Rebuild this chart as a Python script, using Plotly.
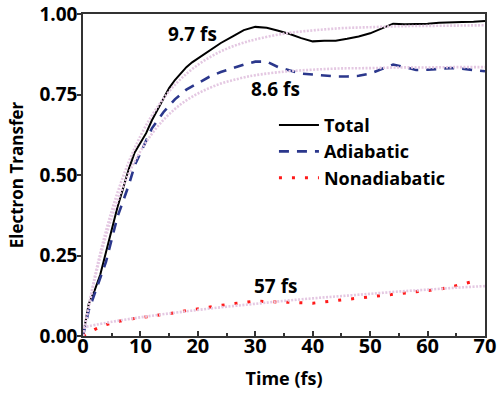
import plotly.graph_objects as go

# ---- data ----
t_total = [0, 1, 2, 3, 4, 5, 6, 7, 8, 9, 10, 11, 12, 13, 14, 15, 16, 17, 18, 19, 20,
           22, 24, 26, 28, 30, 32, 34, 36, 38, 40, 42, 44, 46, 48, 50, 52, 54, 56, 58,
           60, 62, 64, 66, 68, 70]
total = [0.00, 0.10, 0.14, 0.19, 0.26, 0.33, 0.40, 0.46, 0.52, 0.57, 0.60, 0.63, 0.67,
         0.705, 0.74, 0.77, 0.795, 0.815, 0.835, 0.85, 0.862, 0.885, 0.91, 0.93, 0.95, 0.96,
         0.957, 0.948, 0.938, 0.925, 0.915, 0.917, 0.917, 0.923, 0.93, 0.94, 0.955, 0.97,
         0.968, 0.968, 0.97, 0.973, 0.975, 0.975, 0.976, 0.978]

t_adia = [0, 1, 2, 3, 4, 5, 6, 7, 8, 9, 10, 11, 12, 13, 14, 15, 16, 17, 18, 20, 22, 24,
          26, 28, 30, 32, 34, 36, 38, 40, 42, 44, 46, 48, 50, 52, 54, 56, 58, 60, 62, 64,
          66, 68, 70]
adiabatic = [0.00, 0.08, 0.13, 0.18, 0.23, 0.30, 0.37, 0.42, 0.47, 0.53, 0.57, 0.61, 0.645,
             0.67, 0.695, 0.715, 0.735, 0.75, 0.765, 0.785, 0.805, 0.82, 0.832, 0.843, 0.852,
             0.852, 0.835, 0.825, 0.815, 0.812, 0.808, 0.806, 0.806, 0.808, 0.815, 0.83,
             0.843, 0.835, 0.826, 0.827, 0.83, 0.832, 0.83, 0.826, 0.822]

t_nonad = [0, 2, 4, 6, 8, 10, 12, 14, 16, 18, 20, 22, 24, 26, 28, 30, 32, 34, 36, 38, 40,
           42, 44, 46, 48, 50, 52, 54, 56, 58, 60, 62, 64, 66, 68, 69]
nonadiabatic = [0.00, 0.02, 0.035, 0.045, 0.052, 0.057, 0.061, 0.065, 0.072, 0.079, 0.085,
                0.09, 0.095, 0.10, 0.105, 0.108, 0.107, 0.106, 0.104, 0.103, 0.102, 0.106,
                0.11, 0.113, 0.117, 0.121, 0.125, 0.129, 0.133, 0.136, 0.14, 0.145, 0.152,
                0.16, 0.17, 0.174]

# exponential fits (light dotted curves)
t_fit = [0, 2, 4, 6, 8, 10, 12, 14, 16, 18, 20, 22, 24, 26, 28, 30, 35, 40, 45, 50, 55,
         60, 65, 70]
fit_total = [0.0, 0.18, 0.326, 0.445, 0.542, 0.621, 0.685, 0.737, 0.78, 0.814, 0.842,
             0.865, 0.884, 0.899, 0.911, 0.921, 0.939, 0.949, 0.956, 0.959, 0.962, 0.963,
             0.964, 0.965]
fit_adia = [0.0, 0.173, 0.311, 0.419, 0.506, 0.574, 0.628, 0.671, 0.705, 0.732, 0.753,
            0.77, 0.784, 0.794, 0.803, 0.81, 0.821, 0.827, 0.831, 0.832, 0.834, 0.834,
            0.835, 0.835]
t_fit_n = [0, 5, 10, 15, 20, 25, 30, 35, 40, 45, 50, 55, 60, 65, 70]
fit_nonad = [0.027, 0.044, 0.058, 0.07, 0.081, 0.091, 0.10, 0.109, 0.117, 0.124, 0.131,
             0.138, 0.144, 0.15, 0.155]

labels = [("9.7 fs", 19.0, 0.938), ("8.6 fs", 33.6, 0.768), ("57 fs", 33.6, 0.155)]

FONT = "Open Sans"
FIT_COLOR = "#e4c8e2"

fig = go.Figure()
fig.add_trace(go.Scatter(x=t_total, y=total, mode="lines", name="Total",
                         line=dict(color="black", width=2)))
fig.add_trace(go.Scatter(x=t_adia, y=adiabatic, mode="lines", name="Adiabatic",
                         line=dict(color="#2b378c", width=2.6, dash="10px,8px")))
fig.add_trace(go.Scatter(x=t_nonad, y=nonadiabatic, mode="lines", name="Nonadiabatic",
                         line=dict(color="#ff1a1a", width=3, dash="3px,10px")))
for tx, ty in [(t_fit, fit_total), (t_fit, fit_adia), (t_fit_n, fit_nonad)]:
    fig.add_trace(go.Scatter(x=tx, y=ty, mode="lines", showlegend=False,
                             line=dict(color=FIT_COLOR, width=2.6, dash="2px,1.5px",
                                       shape="spline"),
                             hoverinfo="skip"))

for txt, x, y in labels:
    fig.add_annotation(x=x, y=y, text="<b>%s</b>" % txt, showarrow=False,
                       font=dict(family=FONT, size=19, color="black"))

fig.update_xaxes(range=[0, 70], tickvals=[0, 10, 20, 30, 40, 50, 60, 70],
                 automargin=False, ticklabelstandoff=-9, ticklabeloverflow="allow",
                 ticks="inside", ticklen=5, tickwidth=1.5, tickcolor="#333",
                 minor=dict(tickvals=[5, 15, 25, 35, 45, 55, 65], ticks="inside",
                            ticklen=3, tickwidth=1.5, tickcolor="#333"),
                 showline=True, linecolor="#333", linewidth=1.5, mirror=True,
                 showgrid=False, zeroline=False,
                 tickfont=dict(family=FONT, size=20, color="black", weight="bold"),
                 title=dict(text="<b>Time (fs)</b>", standoff=15,
                            font=dict(family=FONT, size=18, color="black")))
fig.update_yaxes(range=[0, 1.0], tickvals=[0, 0.25, 0.5, 0.75, 1.0],
                 ticktext=["0.00", "0.25", "0.50", "0.75", "1.00"],
                 automargin=False, ticklabelstandoff=-4, ticklabeloverflow="allow",
                 ticks="outside", ticklen=4, tickwidth=1.5, tickcolor="#333",
                 showline=True, linecolor="#333", linewidth=1.5, mirror=True,
                 showgrid=False, zeroline=False,
                 tickfont=dict(family=FONT, size=19, color="black", weight="bold"),
                 title=dict(text="<b>Electron Transfer</b>", standoff=11,
                            font=dict(family=FONT, size=17, color="black")))

fig.update_layout(
    width=500, height=398,
    margin=dict(l=83, r=15, t=14, b=62),
    paper_bgcolor="white", plot_bgcolor="white",
    showlegend=True,
    legend=dict(x=0.475, y=0.712, xanchor="left", yanchor="top", itemwidth=40,
                bgcolor="rgba(0,0,0,0)", borderwidth=0,
                font=dict(family=FONT, size=18, color="black", weight="bold")),
)

# remove the default page margin so the figure sits at the window's top-left corner
fig.write_html("out.html", config={"displayModeBar": False},
               post_script="document.body.style.margin='0';document.body.style.overflow='hidden';")
